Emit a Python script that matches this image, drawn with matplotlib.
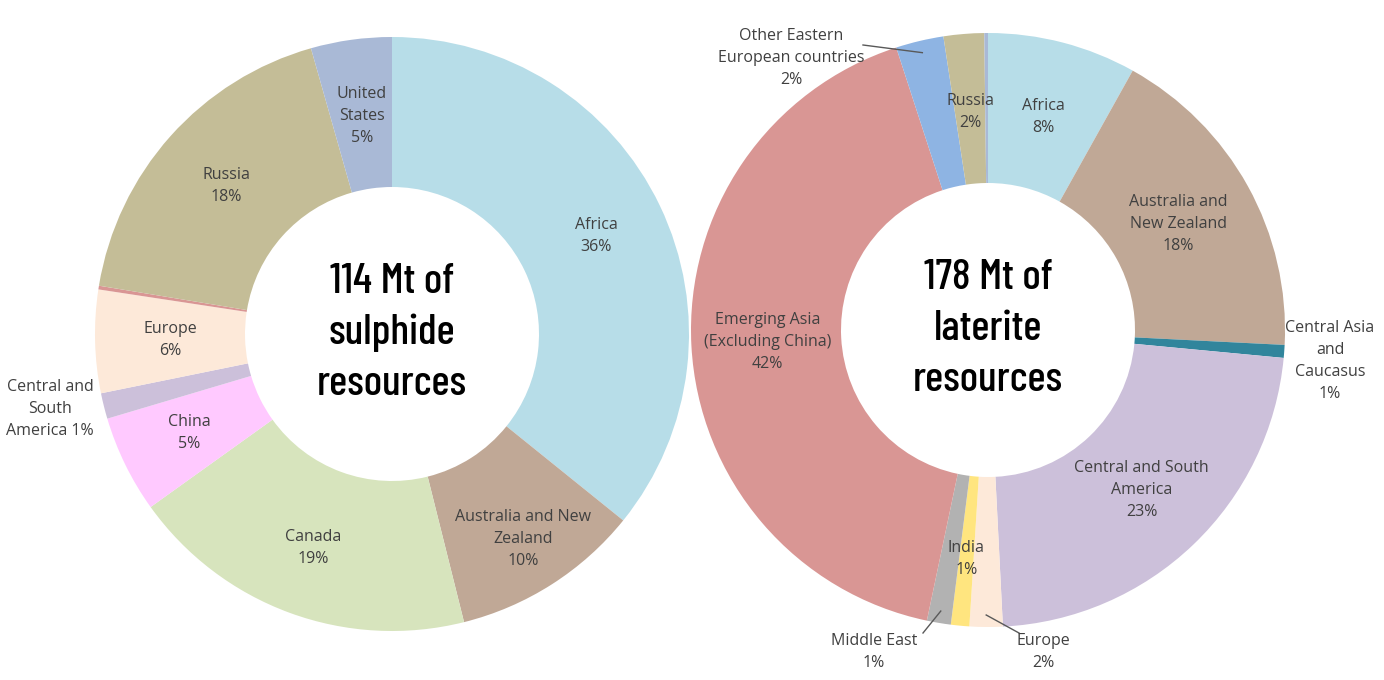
import numpy as np
import matplotlib
matplotlib.use("Agg")
import matplotlib.pyplot as plt

# Sulphide resources (left donut), clockwise from 12 o'clock
sul_names = ["Africa", "Australia and New\nZealand", "Canada", "China",
             "Central and South America", "Europe", "Other", "Russia",
             "United\nStates"]
sul_values = [35.8, 10.3, 19.0, 5.3, 1.4, 5.6, 0.2, 18.0, 4.4]
sul_pct = ["36%", "10%", "19%", "5%", "1%", "6%", "", "18%", "5%"]
sul_colors = ["#B7DDE8", "#C0A896", "#D7E4BD", "#FFC9FF", "#CCC0DA",
              "#FDE9D9", "#D99694", "#C4BD97", "#A9B9D6"]

# Laterite resources (right donut), clockwise from 12 o'clock
lat_names = ["Africa", "Australia and\nNew Zealand", "Central Asia\nand\nCaucasus",
             "Central and South\nAmerica", "Europe", "India", "Middle East",
             "Emerging Asia\n(Excluding China)", "Other Eastern\nEuropean countries",
             "Russia", "Other"]
lat_values = [8.1, 17.7, 0.7, 22.7, 1.8, 1.0, 1.3, 41.7, 2.6, 2.2, 0.2]
lat_pct = ["8%", "18%", "1%", "23%", "2%", "1%", "1%", "42%", "2%", "2%", ""]
lat_colors = ["#B7DDE8", "#C0A896", "#31859C", "#CCC0DA", "#FDE9D9", "#FFE57F",
              "#B2B2B2", "#D99694", "#8EB4E3", "#C4BD97", "#A9B9D6"]

txt = "#404040"
lab_font = ["Open Sans", "DejaVu Sans"]
fs = 11.5
lsp = 1.5

fig = plt.figure(figsize=(13.84, 6.8), dpi=100)
ax = fig.add_axes([0, 0, 1, 1])

R = 297
W = 150


def donut(center, values, colors):
    wedges, _ = ax.pie(values, colors=colors, startangle=90, counterclock=False,
                       center=center, radius=R, frame=True,
                       wedgeprops=dict(width=W, linewidth=0))
    return wedges


def point(w, r):
    a = np.deg2rad((w.theta1 + w.theta2) / 2)
    return w.center[0] + r * np.cos(a), w.center[1] + r * np.sin(a)


def label(x, y, s):
    ax.text(x, y, s, ha="center", va="center", fontsize=fs, color=txt,
            family=lab_font, linespacing=lsp)


c1 = (392, 680 - 334)
c2 = (988, 680 - 330)
w1 = donut(c1, sul_values, sul_colors)
w2 = donut(c2, lat_values, lat_colors)
ax.set_xlim(0, 1384)
ax.set_ylim(0, 680)
ax.set_aspect("equal")
ax.axis("off")

# labels inside the ring (left)
sul_r = [226, 243, 228, 226, 0, 222, 0, 222, 220]
for i, w in enumerate(w1):
    if sul_r[i] == 0:
        continue
    x, y = point(w, sul_r[i])
    label(x, y, sul_names[i] + "\n" + sul_pct[i])

label(50, 680 - 409, "Central and\nSouth\nAmerica " + sul_pct[4])

# labels inside the ring (right)
lat_r = {0: 220, 1: 218, 3: 222, 5: 230, 7: 221, 9: 219}
for i, r in lat_r.items():
    x, y = point(w2[i], r)
    label(x, y, lat_names[i] + "\n" + lat_pct[i])

label(1330, 680 - 361, lat_names[2] + "\n" + lat_pct[2])

# outside labels with leader lines
outside = {6: (874, 680 - 652, (923, 680 - 633)),
           4: (1043, 680 - 652, (1019, 680 - 633)),
           8: (791, 680 - 58, (863, 680 - 45))}
for i, (tx, ty, start) in outside.items():
    label(tx, ty, lat_names[i] + "\n" + lat_pct[i])
    ex, ey = point(w2[i], 285)
    ax.plot([start[0], ex], [start[1], ey], color="#595959", lw=1)

# centre titles
title_kw = dict(ha="center", va="center", fontsize=31, color="black",
                family=["Barlow Condensed", "Roboto Condensed", "Asap Condensed", "DejaVu Sans"],
                weight=500, linespacing=1.42)
ax.text(c1[0], c1[1] + 1, "114 Mt of\nsulphide\nresources", **title_kw)
ax.text(c2[0], c2[1] + 1, "178 Mt of\nlaterite\nresources", **title_kw)

fig.savefig("out.png", dpi=100)
